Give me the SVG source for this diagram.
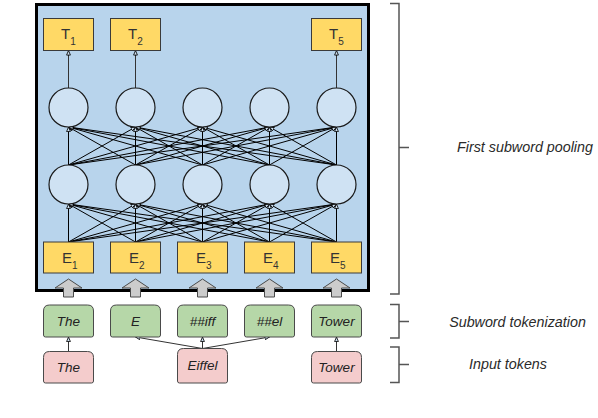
<svg xmlns="http://www.w3.org/2000/svg" width="598" height="418" viewBox="0 0 598 418">
<style>
.bg{fill:#fff}
.frame{fill:#b8d4ec;stroke:#000;stroke-width:3}
.yb{fill:#ffd966;stroke:#3a3a3a;stroke-width:1}
.gb{fill:#b6d7a8;stroke:#4a4a4a;stroke-width:1}
.pb{fill:#f4cccc;stroke:#4a4a4a;stroke-width:1}
.neu{fill:#cfe2f3;stroke:#1a1a1a;stroke-width:1.2}
.ln{stroke:#000;stroke-width:1;fill:none;marker-end:url(#ah)}
.tln{stroke:#333;stroke-width:1;fill:none;marker-end:url(#ah)}
.blk{fill:#cccccc;stroke:#4a4a4a;stroke-width:1;stroke-linejoin:miter}
.br{fill:none;stroke:#555;stroke-width:1.5}
.sym{font-family:"Liberation Sans",Arial,sans-serif;font-size:15px;fill:#333}
.sub{font-size:10px}
.tok{font-family:"Liberation Sans",Arial,sans-serif;font-size:13.5px;font-style:italic;fill:#222;text-anchor:middle}
.lab{font-family:"Liberation Sans",Arial,sans-serif;font-size:14.3px;font-style:italic;fill:#2a2a2a;text-anchor:middle}
</style>
<defs>
<marker id="ah" viewBox="0 0 6 6" refX="6" refY="3" markerWidth="5" markerHeight="5" orient="auto" markerUnits="userSpaceOnUse">
<path d="M0.5,0.7 L6,3 L0.5,5.3 Z" fill="#cfe2f3" stroke="#000" stroke-width="1"/>
</marker>
</defs>
<rect class="bg" x="0" y="0" width="598" height="418"/>

<g id="frame">
<rect class="frame" x="36.5" y="4.5" width="332" height="286"/>
</g>

<g id="connectors">
<line class="tln" x1="68.5" y1="88" x2="68.5" y2="50.5"/>
<line class="tln" x1="135.5" y1="88" x2="135.5" y2="50.5"/>
<line class="tln" x1="336.5" y1="88" x2="336.5" y2="50.5"/>
<line class="ln" x1="68.5" y1="165" x2="68.5" y2="127"/>
<line class="ln" x1="135.5" y1="165" x2="68.5" y2="127"/>
<line class="ln" x1="202.5" y1="165" x2="68.5" y2="127"/>
<line class="ln" x1="269.5" y1="165" x2="68.5" y2="127"/>
<line class="ln" x1="336.5" y1="165" x2="68.5" y2="127"/>
<line class="ln" x1="68.5" y1="165" x2="135.5" y2="127"/>
<line class="ln" x1="135.5" y1="165" x2="135.5" y2="127"/>
<line class="ln" x1="202.5" y1="165" x2="135.5" y2="127"/>
<line class="ln" x1="269.5" y1="165" x2="135.5" y2="127"/>
<line class="ln" x1="336.5" y1="165" x2="135.5" y2="127"/>
<line class="ln" x1="68.5" y1="165" x2="202.5" y2="127"/>
<line class="ln" x1="135.5" y1="165" x2="202.5" y2="127"/>
<line class="ln" x1="202.5" y1="165" x2="202.5" y2="127"/>
<line class="ln" x1="269.5" y1="165" x2="202.5" y2="127"/>
<line class="ln" x1="336.5" y1="165" x2="202.5" y2="127"/>
<line class="ln" x1="68.5" y1="165" x2="269.5" y2="127"/>
<line class="ln" x1="135.5" y1="165" x2="269.5" y2="127"/>
<line class="ln" x1="202.5" y1="165" x2="269.5" y2="127"/>
<line class="ln" x1="269.5" y1="165" x2="269.5" y2="127"/>
<line class="ln" x1="336.5" y1="165" x2="269.5" y2="127"/>
<line class="ln" x1="68.5" y1="165" x2="336.5" y2="127"/>
<line class="ln" x1="135.5" y1="165" x2="336.5" y2="127"/>
<line class="ln" x1="202.5" y1="165" x2="336.5" y2="127"/>
<line class="ln" x1="269.5" y1="165" x2="336.5" y2="127"/>
<line class="ln" x1="336.5" y1="165" x2="336.5" y2="127"/>
<line class="ln" x1="68.5" y1="242" x2="68.5" y2="204"/>
<line class="ln" x1="135.5" y1="242" x2="68.5" y2="204"/>
<line class="ln" x1="202.5" y1="242" x2="68.5" y2="204"/>
<line class="ln" x1="269.5" y1="242" x2="68.5" y2="204"/>
<line class="ln" x1="336.5" y1="242" x2="68.5" y2="204"/>
<line class="ln" x1="68.5" y1="242" x2="135.5" y2="204"/>
<line class="ln" x1="135.5" y1="242" x2="135.5" y2="204"/>
<line class="ln" x1="202.5" y1="242" x2="135.5" y2="204"/>
<line class="ln" x1="269.5" y1="242" x2="135.5" y2="204"/>
<line class="ln" x1="336.5" y1="242" x2="135.5" y2="204"/>
<line class="ln" x1="68.5" y1="242" x2="202.5" y2="204"/>
<line class="ln" x1="135.5" y1="242" x2="202.5" y2="204"/>
<line class="ln" x1="202.5" y1="242" x2="202.5" y2="204"/>
<line class="ln" x1="269.5" y1="242" x2="202.5" y2="204"/>
<line class="ln" x1="336.5" y1="242" x2="202.5" y2="204"/>
<line class="ln" x1="68.5" y1="242" x2="269.5" y2="204"/>
<line class="ln" x1="135.5" y1="242" x2="269.5" y2="204"/>
<line class="ln" x1="202.5" y1="242" x2="269.5" y2="204"/>
<line class="ln" x1="269.5" y1="242" x2="269.5" y2="204"/>
<line class="ln" x1="336.5" y1="242" x2="269.5" y2="204"/>
<line class="ln" x1="68.5" y1="242" x2="336.5" y2="204"/>
<line class="ln" x1="135.5" y1="242" x2="336.5" y2="204"/>
<line class="ln" x1="202.5" y1="242" x2="336.5" y2="204"/>
<line class="ln" x1="269.5" y1="242" x2="336.5" y2="204"/>
<line class="ln" x1="336.5" y1="242" x2="336.5" y2="204"/>
<line class="tln" x1="68.5" y1="351.5" x2="68.5" y2="337"/>
<line class="tln" x1="202.5" y1="348.5" x2="135.5" y2="337"/>
<line class="tln" x1="202.5" y1="348.5" x2="202.5" y2="337"/>
<line class="tln" x1="202.5" y1="348.5" x2="269.5" y2="337"/>
<line class="tln" x1="336.5" y1="351.5" x2="336.5" y2="337"/>
<polygon class="blk" points="68.5,279 82,288 73.5,288 73.5,297 63.5,297 63.5,288 55,288"/>
<polygon class="blk" points="135.5,279 149,288 140.5,288 140.5,297 130.5,297 130.5,288 122,288"/>
<polygon class="blk" points="202.5,279 216,288 207.5,288 207.5,297 197.5,297 197.5,288 189,288"/>
<polygon class="blk" points="269.5,279 283,288 274.5,288 274.5,297 264.5,297 264.5,288 256,288"/>
<polygon class="blk" points="336.5,279 350,288 341.5,288 341.5,297 331.5,297 331.5,288 323,288"/>
</g>

<g id="T1"><rect class="yb" x="43.5" y="18.5" width="50" height="32"/><text class="sym" x="61" y="39">T<tspan class="sub" dy="6">1</tspan></text></g>
<g id="T2"><rect class="yb" x="110.5" y="18.5" width="50" height="32"/><text class="sym" x="128" y="39">T<tspan class="sub" dy="6">2</tspan></text></g>
<g id="T5"><rect class="yb" x="311.5" y="18.5" width="50" height="32"/><text class="sym" x="329" y="39">T<tspan class="sub" dy="6">5</tspan></text></g>

<g id="h1-1"><circle class="neu" cx="68.5" cy="107.5" r="19.5"/></g>
<g id="h1-2"><circle class="neu" cx="135.5" cy="107.5" r="19.5"/></g>
<g id="h1-3"><circle class="neu" cx="202.5" cy="107.5" r="19.5"/></g>
<g id="h1-4"><circle class="neu" cx="269.5" cy="107.5" r="19.5"/></g>
<g id="h1-5"><circle class="neu" cx="336.5" cy="107.5" r="19.5"/></g>

<g id="h2-1"><circle class="neu" cx="68.5" cy="184.5" r="19.5"/></g>
<g id="h2-2"><circle class="neu" cx="135.5" cy="184.5" r="19.5"/></g>
<g id="h2-3"><circle class="neu" cx="202.5" cy="184.5" r="19.5"/></g>
<g id="h2-4"><circle class="neu" cx="269.5" cy="184.5" r="19.5"/></g>
<g id="h2-5"><circle class="neu" cx="336.5" cy="184.5" r="19.5"/></g>

<g id="E1"><rect class="yb" x="43.5" y="242" width="50" height="31"/><text class="sym" x="62" y="263">E<tspan class="sub" dy="6">1</tspan></text></g>
<g id="E2"><rect class="yb" x="110.5" y="242" width="50" height="31"/><text class="sym" x="129" y="263">E<tspan class="sub" dy="6">2</tspan></text></g>
<g id="E3"><rect class="yb" x="177.5" y="242" width="50" height="31"/><text class="sym" x="196" y="263">E<tspan class="sub" dy="6">3</tspan></text></g>
<g id="E4"><rect class="yb" x="244.5" y="242" width="50" height="31"/><text class="sym" x="263" y="263">E<tspan class="sub" dy="6">4</tspan></text></g>
<g id="E5"><rect class="yb" x="311.5" y="242" width="50" height="31"/><text class="sym" x="330" y="263">E<tspan class="sub" dy="6">5</tspan></text></g>

<g id="sw-The"><path class="gb" d="M43.5,335 V311 Q43.5,305 49.5,305 H87.5 Q93.5,305 93.5,311 V335 Q93.5,337 91.5,337 H45.5 Q43.5,337 43.5,335 Z"/><text class="tok" x="68.5" y="325.5">The</text></g>
<g id="sw-E"><path class="gb" d="M110.5,335 V311 Q110.5,305 116.5,305 H154.5 Q160.5,305 160.5,311 V335 Q160.5,337 158.5,337 H112.5 Q110.5,337 110.5,335 Z"/><text class="tok" x="135.5" y="325.5">E</text></g>
<g id="sw-iff"><path class="gb" d="M177.5,335 V311 Q177.5,305 183.5,305 H221.5 Q227.5,305 227.5,311 V335 Q227.5,337 225.5,337 H179.5 Q177.5,337 177.5,335 Z"/><text class="tok" x="202.5" y="325.5">##iff</text></g>
<g id="sw-el"><path class="gb" d="M244.5,335 V311 Q244.5,305 250.5,305 H288.5 Q294.5,305 294.5,311 V335 Q294.5,337 292.5,337 H246.5 Q244.5,337 244.5,335 Z"/><text class="tok" x="269.5" y="325.5">##el</text></g>
<g id="sw-Tower"><path class="gb" d="M311.5,335 V311 Q311.5,305 317.5,305 H355.5 Q361.5,305 361.5,311 V335 Q361.5,337 359.5,337 H313.5 Q311.5,337 311.5,335 Z"/><text class="tok" x="336.5" y="325.5">Tower</text></g>

<g id="in-The"><path class="pb" d="M43.5,381 V357.5 Q43.5,351.5 49.5,351.5 H87.5 Q93.5,351.5 93.5,357.5 V381 Q93.5,383 91.5,383 H45.5 Q43.5,383 43.5,381 Z"/><text class="tok" x="68.5" y="372">The</text></g>
<g id="in-Eiffel"><path class="pb" d="M177.5,381 V354.5 Q177.5,348.5 183.5,348.5 H221.5 Q227.5,348.5 227.5,354.5 V381 Q227.5,383 225.5,383 H179.5 Q177.5,383 177.5,381 Z"/><text class="tok" x="202.5" y="370">Eiffel</text></g>
<g id="in-Tower"><path class="pb" d="M311.5,381 V357.5 Q311.5,351.5 317.5,351.5 H355.5 Q361.5,351.5 361.5,357.5 V381 Q361.5,383 359.5,383 H313.5 Q311.5,383 311.5,381 Z"/><text class="tok" x="336.5" y="372">Tower</text></g>

<g id="label-pooling"><path class="br" d="M390,3.5 H399 V294 H390 M399,147.5 H409"/><text class="lab" x="525" y="152">First subword pooling</text></g>
<g id="label-subword"><path class="br" d="M390,304.5 H399 V338 H390 M399,321.5 H409"/><text class="lab" x="517.5" y="326.5">Subword tokenization</text></g>
<g id="label-input"><path class="br" d="M390,347 H399 V382.5 H390 M399,364.5 H409"/><text class="lab" x="508" y="369">Input tokens</text></g>
</svg>
